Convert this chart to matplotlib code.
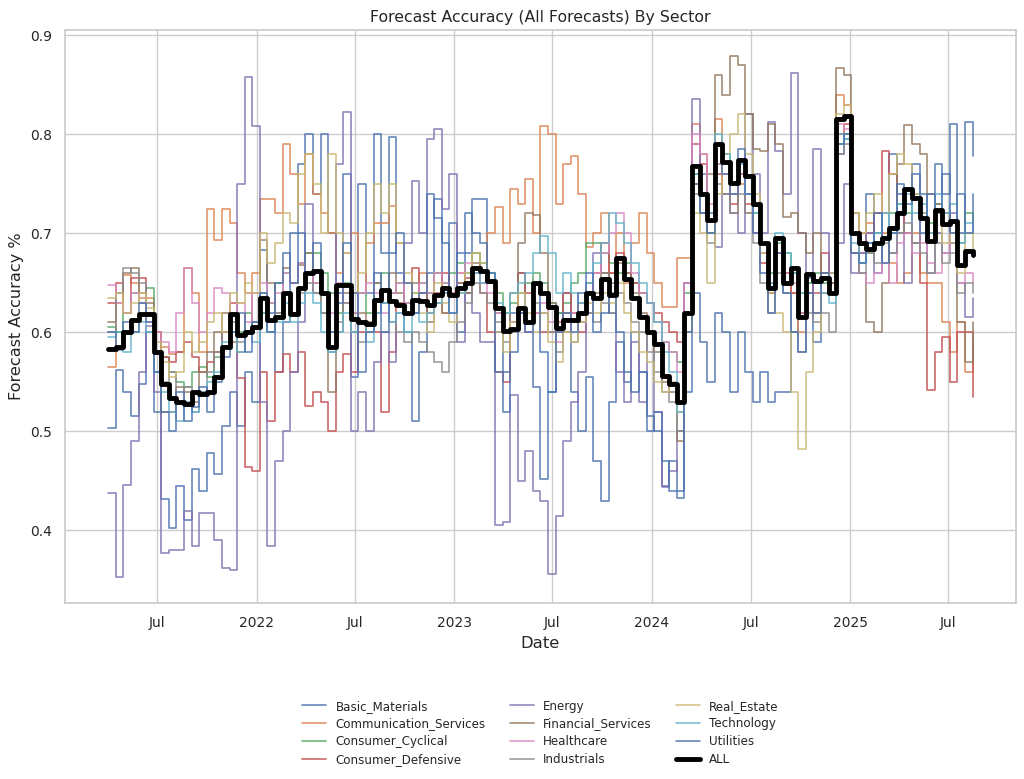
import matplotlib as mpl
mpl.use('Agg')
import matplotlib.pyplot as plt
import matplotlib.dates as mdates
import seaborn as sns
import pandas as pd

# sampling dates (every two weeks)
dates = pd.date_range('2021-04-02', periods=115, freq='14D')

sectors = ['Basic_Materials', 'Communication_Services', 'Consumer_Cyclical',
           'Consumer_Defensive', 'Energy', 'Financial_Services', 'Healthcare',
           'Industrials', 'Real_Estate', 'Technology', 'Utilities']

basic_materials = [
    0.503, 0.562, 0.540, 0.515, 0.548, 0.600, 0.520, 0.432, 0.402, 0.445,
    0.410, 0.462, 0.440, 0.478, 0.457, 0.505, 0.540, 0.505, 0.560, 0.530,
    0.683, 0.620, 0.560, 0.610, 0.700, 0.770, 0.800, 0.740, 0.800, 0.700,
    0.640, 0.760, 0.555, 0.750, 0.640, 0.800, 0.680, 0.797, 0.660, 0.600,
    0.510, 0.580, 0.660, 0.735, 0.640, 0.710, 0.600, 0.680, 0.735, 0.735,
    0.650, 0.600, 0.560, 0.620, 0.660, 0.600, 0.545, 0.452, 0.540, 0.620,
    0.640, 0.540, 0.500, 0.555, 0.470, 0.430, 0.530, 0.590, 0.550, 0.600,
    0.560, 0.515, 0.500, 0.445, 0.470, 0.440, 0.540, 0.640, 0.590, 0.550,
    0.620, 0.600, 0.540, 0.600, 0.560, 0.530, 0.560, 0.530, 0.540, 0.540,
    0.600, 0.620, 0.655, 0.590, 0.640, 0.660, 0.780, 0.795, 0.720, 0.700,
    0.740, 0.700, 0.720, 0.780, 0.740, 0.700, 0.770, 0.740, 0.700, 0.770,
    0.740, 0.810, 0.700, 0.812, 0.778]

communication_services = [
    0.565, 0.630, 0.658, 0.650, 0.635, 0.635, 0.600, 0.585, 0.578, 0.580,
    0.665, 0.640, 0.580, 0.725, 0.693, 0.725, 0.710, 0.660, 0.640, 0.660,
    0.735, 0.735, 0.720, 0.790, 0.760, 0.730, 0.780, 0.740, 0.720, 0.700,
    0.660, 0.680, 0.700, 0.640, 0.690, 0.710, 0.710, 0.728, 0.690, 0.650,
    0.620, 0.660, 0.640, 0.660, 0.620, 0.640, 0.660, 0.640, 0.680, 0.650,
    0.700, 0.727, 0.690, 0.745, 0.730, 0.755, 0.700, 0.808, 0.800, 0.730,
    0.770, 0.778, 0.740, 0.686, 0.700, 0.720, 0.660, 0.700, 0.650, 0.690,
    0.720, 0.680, 0.650, 0.626, 0.626, 0.675, 0.675, 0.810, 0.780, 0.700,
    0.815, 0.740, 0.720, 0.750, 0.720, 0.700, 0.680, 0.640, 0.680, 0.660,
    0.640, 0.600, 0.640, 0.620, 0.660, 0.650, 0.840, 0.830, 0.720, 0.700,
    0.710, 0.690, 0.700, 0.670, 0.650, 0.660, 0.700, 0.660, 0.650, 0.650,
    0.610, 0.580, 0.610, 0.560, 0.590]

consumer_cyclical = [
    0.605, 0.600, 0.620, 0.640, 0.630, 0.645, 0.600, 0.575, 0.560, 0.550,
    0.545, 0.560, 0.565, 0.555, 0.575, 0.600, 0.620, 0.600, 0.620, 0.610,
    0.640, 0.630, 0.650, 0.660, 0.650, 0.670, 0.680, 0.680, 0.660, 0.640,
    0.620, 0.650, 0.620, 0.640, 0.620, 0.650, 0.660, 0.640, 0.650, 0.630,
    0.640, 0.650, 0.640, 0.660, 0.650, 0.660, 0.670, 0.660, 0.680, 0.670,
    0.660, 0.640, 0.620, 0.630, 0.640, 0.650, 0.660, 0.650, 0.630, 0.620,
    0.630, 0.650, 0.660, 0.690, 0.690, 0.680, 0.670, 0.660, 0.670, 0.650,
    0.640, 0.630, 0.610, 0.590, 0.580, 0.570, 0.640, 0.760, 0.720, 0.700,
    0.770, 0.780, 0.740, 0.760, 0.740, 0.720, 0.690, 0.660, 0.690, 0.680,
    0.660, 0.640, 0.650, 0.660, 0.650, 0.650, 0.790, 0.800, 0.680, 0.670,
    0.680, 0.700, 0.720, 0.720, 0.730, 0.720, 0.740, 0.720, 0.710, 0.730,
    0.720, 0.710, 0.690, 0.720, 0.710]

consumer_defensive = [
    0.630, 0.650, 0.620, 0.655, 0.655, 0.620, 0.600, 0.575, 0.570, 0.580,
    0.590, 0.575, 0.560, 0.570, 0.580, 0.600, 0.630, 0.554, 0.464, 0.460,
    0.560, 0.510, 0.560, 0.578, 0.560, 0.580, 0.526, 0.540, 0.530, 0.500,
    0.560, 0.578, 0.560, 0.600, 0.607, 0.600, 0.520, 0.580, 0.630, 0.620,
    0.665, 0.640, 0.620, 0.640, 0.660, 0.640, 0.650, 0.655, 0.660, 0.640,
    0.600, 0.560, 0.550, 0.610, 0.660, 0.640, 0.620, 0.600, 0.600, 0.610,
    0.640, 0.620, 0.600, 0.640, 0.660, 0.690, 0.660, 0.680, 0.660, 0.650,
    0.640, 0.630, 0.620, 0.610, 0.600, 0.590, 0.650, 0.790, 0.770, 0.720,
    0.760, 0.740, 0.730, 0.760, 0.730, 0.700, 0.670, 0.640, 0.680, 0.660,
    0.640, 0.620, 0.660, 0.640, 0.680, 0.650, 0.800, 0.810, 0.700, 0.680,
    0.700, 0.720, 0.783, 0.760, 0.720, 0.700, 0.690, 0.650, 0.542, 0.580,
    0.595, 0.550, 0.600, 0.600, 0.535]

energy = [
    0.438, 0.353, 0.446, 0.490, 0.560, 0.606, 0.540, 0.377, 0.380, 0.380,
    0.420, 0.384, 0.418, 0.418, 0.390, 0.362, 0.360, 0.750, 0.858, 0.808,
    0.530, 0.384, 0.470, 0.500, 0.560, 0.610, 0.730, 0.640, 0.640, 0.580,
    0.770, 0.822, 0.500, 0.540, 0.500, 0.570, 0.600, 0.570, 0.620, 0.690,
    0.753, 0.700, 0.795, 0.805, 0.725, 0.760, 0.590, 0.640, 0.620, 0.590,
    0.590, 0.405, 0.408, 0.537, 0.450, 0.480, 0.440, 0.430, 0.356, 0.415,
    0.490, 0.530, 0.560, 0.620, 0.680, 0.660, 0.620, 0.560, 0.530, 0.590,
    0.530, 0.600, 0.520, 0.444, 0.460, 0.500, 0.650, 0.836, 0.760, 0.720,
    0.686, 0.740, 0.720, 0.700, 0.820, 0.760, 0.700, 0.812, 0.783, 0.740,
    0.862, 0.700, 0.640, 0.785, 0.700, 0.660, 0.690, 0.750, 0.660, 0.680,
    0.700, 0.660, 0.720, 0.680, 0.700, 0.650, 0.690, 0.720, 0.660, 0.700,
    0.680, 0.720, 0.650, 0.615, 0.635]

financial_services = [
    0.610, 0.640, 0.660, 0.665, 0.640, 0.630, 0.560, 0.520, 0.520, 0.545,
    0.540, 0.530, 0.560, 0.580, 0.600, 0.620, 0.590, 0.580, 0.600, 0.640,
    0.693, 0.650, 0.620, 0.665, 0.650, 0.668, 0.680, 0.650, 0.620, 0.540,
    0.600, 0.640, 0.600, 0.620, 0.610, 0.650, 0.630, 0.660, 0.640, 0.620,
    0.650, 0.640, 0.610, 0.630, 0.620, 0.640, 0.650, 0.640, 0.670, 0.660,
    0.650, 0.620, 0.600, 0.640, 0.690, 0.720, 0.718, 0.680, 0.630, 0.600,
    0.620, 0.610, 0.630, 0.650, 0.640, 0.660, 0.650, 0.670, 0.660, 0.640,
    0.620, 0.600, 0.580, 0.550, 0.540, 0.490, 0.600, 0.750, 0.740, 0.760,
    0.860, 0.840, 0.879, 0.870, 0.820, 0.785, 0.783, 0.810, 0.790, 0.716,
    0.720, 0.700, 0.680, 0.700, 0.660, 0.650, 0.867, 0.860, 0.700, 0.660,
    0.610, 0.600, 0.650, 0.700, 0.770, 0.809, 0.790, 0.780, 0.740, 0.730,
    0.720, 0.690, 0.610, 0.570, 0.610]

healthcare = [
    0.648, 0.630, 0.620, 0.640, 0.630, 0.610, 0.600, 0.590, 0.580, 0.620,
    0.665, 0.630, 0.600, 0.620, 0.645, 0.640, 0.620, 0.630, 0.610, 0.640,
    0.650, 0.630, 0.640, 0.660, 0.650, 0.670, 0.660, 0.650, 0.640, 0.620,
    0.650, 0.630, 0.620, 0.640, 0.650, 0.640, 0.620, 0.640, 0.650, 0.630,
    0.620, 0.650, 0.640, 0.660, 0.650, 0.640, 0.660, 0.670, 0.660, 0.650,
    0.640, 0.620, 0.600, 0.610, 0.620, 0.600, 0.620, 0.630, 0.610, 0.590,
    0.600, 0.620, 0.610, 0.640, 0.660, 0.680, 0.700, 0.720, 0.700, 0.660,
    0.640, 0.630, 0.610, 0.590, 0.580, 0.560, 0.650, 0.800, 0.780, 0.730,
    0.770, 0.760, 0.740, 0.760, 0.740, 0.700, 0.680, 0.650, 0.680, 0.660,
    0.650, 0.620, 0.660, 0.650, 0.640, 0.640, 0.810, 0.805, 0.680, 0.660,
    0.650, 0.660, 0.670, 0.650, 0.690, 0.700, 0.680, 0.690, 0.670, 0.660,
    0.680, 0.700, 0.650, 0.660, 0.650]

industrials = [
    0.600, 0.640, 0.665, 0.660, 0.650, 0.620, 0.580, 0.550, 0.560, 0.530,
    0.545, 0.520, 0.540, 0.560, 0.580, 0.600, 0.610, 0.590, 0.600, 0.610,
    0.620, 0.600, 0.620, 0.640, 0.620, 0.640, 0.650, 0.640, 0.620, 0.600,
    0.610, 0.630, 0.600, 0.590, 0.600, 0.620, 0.630, 0.610, 0.600, 0.590,
    0.600, 0.590, 0.580, 0.570, 0.560, 0.590, 0.610, 0.630, 0.650, 0.640,
    0.630, 0.610, 0.590, 0.600, 0.620, 0.610, 0.630, 0.620, 0.600, 0.580,
    0.600, 0.590, 0.610, 0.620, 0.610, 0.630, 0.620, 0.640, 0.630, 0.610,
    0.600, 0.580, 0.560, 0.540, 0.530, 0.500, 0.600, 0.740, 0.720, 0.690,
    0.750, 0.740, 0.720, 0.740, 0.720, 0.690, 0.650, 0.620, 0.660, 0.640,
    0.600, 0.580, 0.620, 0.610, 0.620, 0.600, 0.780, 0.790, 0.680, 0.660,
    0.680, 0.670, 0.690, 0.680, 0.700, 0.710, 0.690, 0.680, 0.660, 0.690,
    0.670, 0.680, 0.640, 0.650, 0.640]

real_estate = [
    0.635, 0.640, 0.620, 0.630, 0.640, 0.625, 0.590, 0.570, 0.555, 0.560,
    0.600, 0.580, 0.590, 0.610, 0.620, 0.600, 0.640, 0.630, 0.650, 0.640,
    0.700, 0.670, 0.690, 0.720, 0.710, 0.760, 0.780, 0.750, 0.700, 0.780,
    0.700, 0.680, 0.640, 0.660, 0.700, 0.750, 0.720, 0.750, 0.690, 0.660,
    0.640, 0.620, 0.600, 0.650, 0.630, 0.610, 0.640, 0.660, 0.680, 0.670,
    0.650, 0.600, 0.580, 0.610, 0.640, 0.620, 0.600, 0.620, 0.590, 0.570,
    0.600, 0.590, 0.610, 0.630, 0.620, 0.640, 0.630, 0.650, 0.620, 0.600,
    0.580, 0.570, 0.550, 0.540, 0.550, 0.520, 0.600, 0.720, 0.700, 0.650,
    0.740, 0.780, 0.800, 0.820, 0.780, 0.740, 0.680, 0.640, 0.620, 0.600,
    0.540, 0.482, 0.560, 0.600, 0.640, 0.660, 0.820, 0.830, 0.720, 0.700,
    0.720, 0.740, 0.720, 0.760, 0.780, 0.770, 0.740, 0.720, 0.700, 0.720,
    0.690, 0.700, 0.660, 0.700, 0.680]

technology = [
    0.595, 0.600, 0.580, 0.600, 0.610, 0.600, 0.560, 0.540, 0.520, 0.510,
    0.530, 0.520, 0.540, 0.550, 0.560, 0.590, 0.600, 0.580, 0.600, 0.590,
    0.620, 0.600, 0.610, 0.630, 0.610, 0.630, 0.640, 0.630, 0.600, 0.580,
    0.600, 0.620, 0.600, 0.610, 0.590, 0.620, 0.630, 0.610, 0.620, 0.600,
    0.620, 0.610, 0.620, 0.630, 0.640, 0.620, 0.640, 0.650, 0.660, 0.650,
    0.660, 0.630, 0.620, 0.640, 0.650, 0.660, 0.680, 0.697, 0.680, 0.640,
    0.660, 0.640, 0.630, 0.650, 0.670, 0.690, 0.720, 0.710, 0.690, 0.670,
    0.650, 0.630, 0.610, 0.580, 0.560, 0.520, 0.620, 0.760, 0.740, 0.720,
    0.800, 0.780, 0.750, 0.770, 0.740, 0.720, 0.690, 0.650, 0.700, 0.680,
    0.660, 0.640, 0.660, 0.650, 0.640, 0.630, 0.800, 0.795, 0.690, 0.670,
    0.690, 0.700, 0.720, 0.700, 0.730, 0.740, 0.720, 0.730, 0.700, 0.740,
    0.720, 0.730, 0.690, 0.710, 0.700]

utilities = [
    0.600, 0.582, 0.610, 0.600, 0.630, 0.610, 0.560, 0.520, 0.500, 0.540,
    0.510, 0.525, 0.545, 0.520, 0.550, 0.575, 0.600, 0.620, 0.580, 0.610,
    0.640, 0.600, 0.650, 0.680, 0.650, 0.700, 0.660, 0.690, 0.640, 0.600,
    0.630, 0.690, 0.640, 0.560, 0.600, 0.660, 0.600, 0.680, 0.700, 0.650,
    0.620, 0.640, 0.740, 0.715, 0.690, 0.620, 0.680, 0.720, 0.700, 0.690,
    0.660, 0.560, 0.520, 0.580, 0.620, 0.600, 0.650, 0.580, 0.540, 0.600,
    0.620, 0.600, 0.640, 0.660, 0.600, 0.620, 0.640, 0.600, 0.560, 0.540,
    0.560, 0.500, 0.520, 0.470, 0.440, 0.433, 0.600, 0.750, 0.720, 0.700,
    0.790, 0.760, 0.740, 0.785, 0.740, 0.700, 0.660, 0.620, 0.680, 0.640,
    0.600, 0.580, 0.640, 0.620, 0.660, 0.640, 0.790, 0.800, 0.680, 0.670,
    0.690, 0.720, 0.670, 0.700, 0.750, 0.730, 0.760, 0.700, 0.740, 0.720,
    0.760, 0.700, 0.740, 0.700, 0.740]

all_sectors = [
    0.583, 0.585, 0.600, 0.612, 0.618, 0.618, 0.580, 0.548, 0.534, 0.530,
    0.528, 0.540, 0.538, 0.540, 0.555, 0.585, 0.618, 0.597, 0.600, 0.605,
    0.635, 0.612, 0.615, 0.640, 0.618, 0.645, 0.660, 0.662, 0.640, 0.585,
    0.648, 0.648, 0.613, 0.610, 0.608, 0.633, 0.643, 0.632, 0.628, 0.620,
    0.633, 0.632, 0.628, 0.638, 0.645, 0.638, 0.645, 0.650, 0.665, 0.662,
    0.652, 0.625, 0.601, 0.603, 0.625, 0.610, 0.650, 0.640, 0.626, 0.604,
    0.612, 0.612, 0.620, 0.640, 0.635, 0.654, 0.638, 0.675, 0.654, 0.635,
    0.615, 0.600, 0.588, 0.556, 0.548, 0.530, 0.620, 0.768, 0.740, 0.713,
    0.790, 0.772, 0.751, 0.774, 0.758, 0.730, 0.690, 0.645, 0.695, 0.650,
    0.665, 0.615, 0.659, 0.652, 0.655, 0.640, 0.815, 0.818, 0.700, 0.690,
    0.684, 0.690, 0.695, 0.705, 0.720, 0.745, 0.736, 0.715, 0.692, 0.724,
    0.709, 0.712, 0.668, 0.682, 0.678]

sector_values = [basic_materials, communication_services, consumer_cyclical,
                 consumer_defensive, energy, financial_services, healthcare,
                 industrials, real_estate, technology, utilities]


def draw_plot():
    sns.set_theme(style='whitegrid')
    fig = plt.figure(figsize=(10.24, 7.79), dpi=100)
    ax = fig.add_axes([0.0635, 0.226, 0.9285, 0.7355])

    for name, vals in zip(sectors, sector_values):
        ax.plot(dates, vals, drawstyle='steps-post', linewidth=1.2, alpha=0.85, label=name)
    ax.plot(dates, all_sectors, drawstyle='steps-post', color='black', linewidth=3.5, label='ALL')

    locator = mdates.MonthLocator(bymonth=[1, 7])
    ax.xaxis.set_major_locator(locator)
    ax.xaxis.set_major_formatter(mdates.ConciseDateFormatter(locator))
    ax.tick_params(labelsize=10)

    ax.set_title('Forecast Accuracy (All Forecasts) By Sector', fontsize=11.3)
    ax.set_xlabel('Date', fontsize=11.8)
    ax.set_ylabel('Forecast Accuracy %', fontsize=11.6)
    ax.legend(loc='upper center', bbox_to_anchor=(0.5, -0.15), ncol=3,
              frameon=False, fontsize=8.6, labelspacing=0.4)
    fig.savefig('out.png', dpi=100)


draw_plot()
